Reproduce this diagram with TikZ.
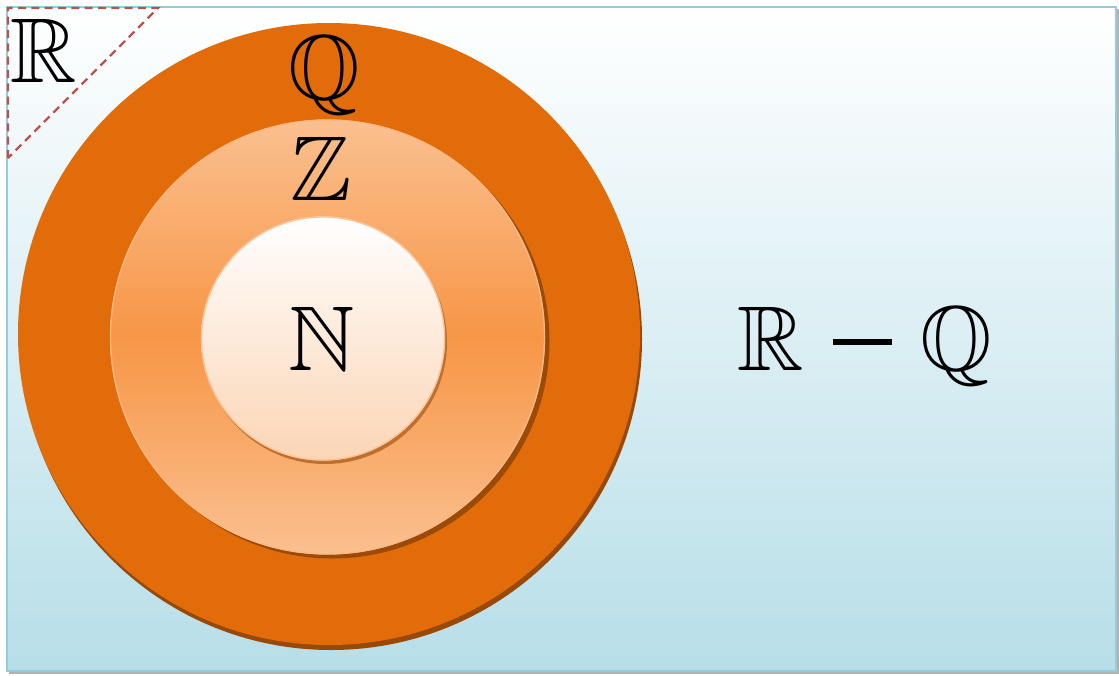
\documentclass[tikz,border=0pt]{standalone}
\usepackage{amssymb}
\usetikzlibrary{shadings}
\definecolor{bgtop}{HTML}{FFFFFF}
\definecolor{bgbot}{HTML}{B7DEE8}
\definecolor{bgborder}{HTML}{93CDDD}
\definecolor{outerfill}{HTML}{E36C0A}
\definecolor{outershadow}{HTML}{984807}
\definecolor{midlight}{HTML}{FAC090}
\definecolor{middark}{HTML}{F79646}
\definecolor{midedge}{HTML}{FBB784}
\definecolor{midshadow}{HTML}{9C4A08}
\definecolor{innerbot}{HTML}{FBD5B5}
\definecolor{inneredge}{HTML}{F9C49A}
\definecolor{innershadow}{HTML}{C0702E}
\definecolor{dashred}{HTML}{C0504D}
\tikzset{
  setlabel/.style={inner sep=0pt, anchor=base, font=\fontsize{69}{80}\selectfont},
}
\begin{document}
\begin{tikzpicture}[x=0.75pt,y=-0.75pt]
\useasboundingbox (0,0) rectangle (1119,675);
% background rectangle with shadow
\fill[gray!60] (9,9) rectangle (1119,674);
\shade[top color=bgtop, bottom color=bgbot] (7,7) rectangle (1116,671);
\draw[bgborder, line width=1.5pt] (7,7) rectangle (1116,671);
% outer circle Q
\fill[outershadow] (331,339) circle (311);
\fill[outerfill] (329,334) circle (311);
% middle circle Z
\fill[midshadow] (332,341) circle (217.5);
\shade[top color=midlight, bottom color=midlight, middle color=middark] (327.5,337) circle (217.5);
\draw[midedge, line width=1pt] (327.5,337) circle (217);
% inner circle N
\fill[innershadow] (325,342) circle (122);
\shade[top color=white, bottom color=innerbot] (323,338.5) circle (122);
\draw[inneredge, line width=1pt] (323,338.5) circle (121.5);
% dashed triangle
\coordinate (t1) at (8,8);
\coordinate (t2) at (158,8);
\coordinate (t3) at (8,158);
\draw[dashred, line width=1.6pt, dash pattern=on 6pt off 4pt] (t3) -- (t1) -- (t2) -- cycle;
% labels
\node[setlabel] (R) at (44,82) {$\mathbb{R}$};
\node[setlabel] (Q) at (324,99) {$\mathbb{Q}$};
\node[setlabel] (Z) at (321,200) {$\mathbb{Z}$};
\node[setlabel] (N) at (322,370) {$\mathbb{N}$};
\node[setlabel] (RQa) at (771,370) {$\mathbb{R}$};
\node[fill=black, inner sep=0pt, minimum width=44pt, minimum height=5.2pt] (minus) at (862.5,342) {};
\node[setlabel] (RQb) at (956,370) {$\mathbb{Q}$};
\end{tikzpicture}
\end{document}
